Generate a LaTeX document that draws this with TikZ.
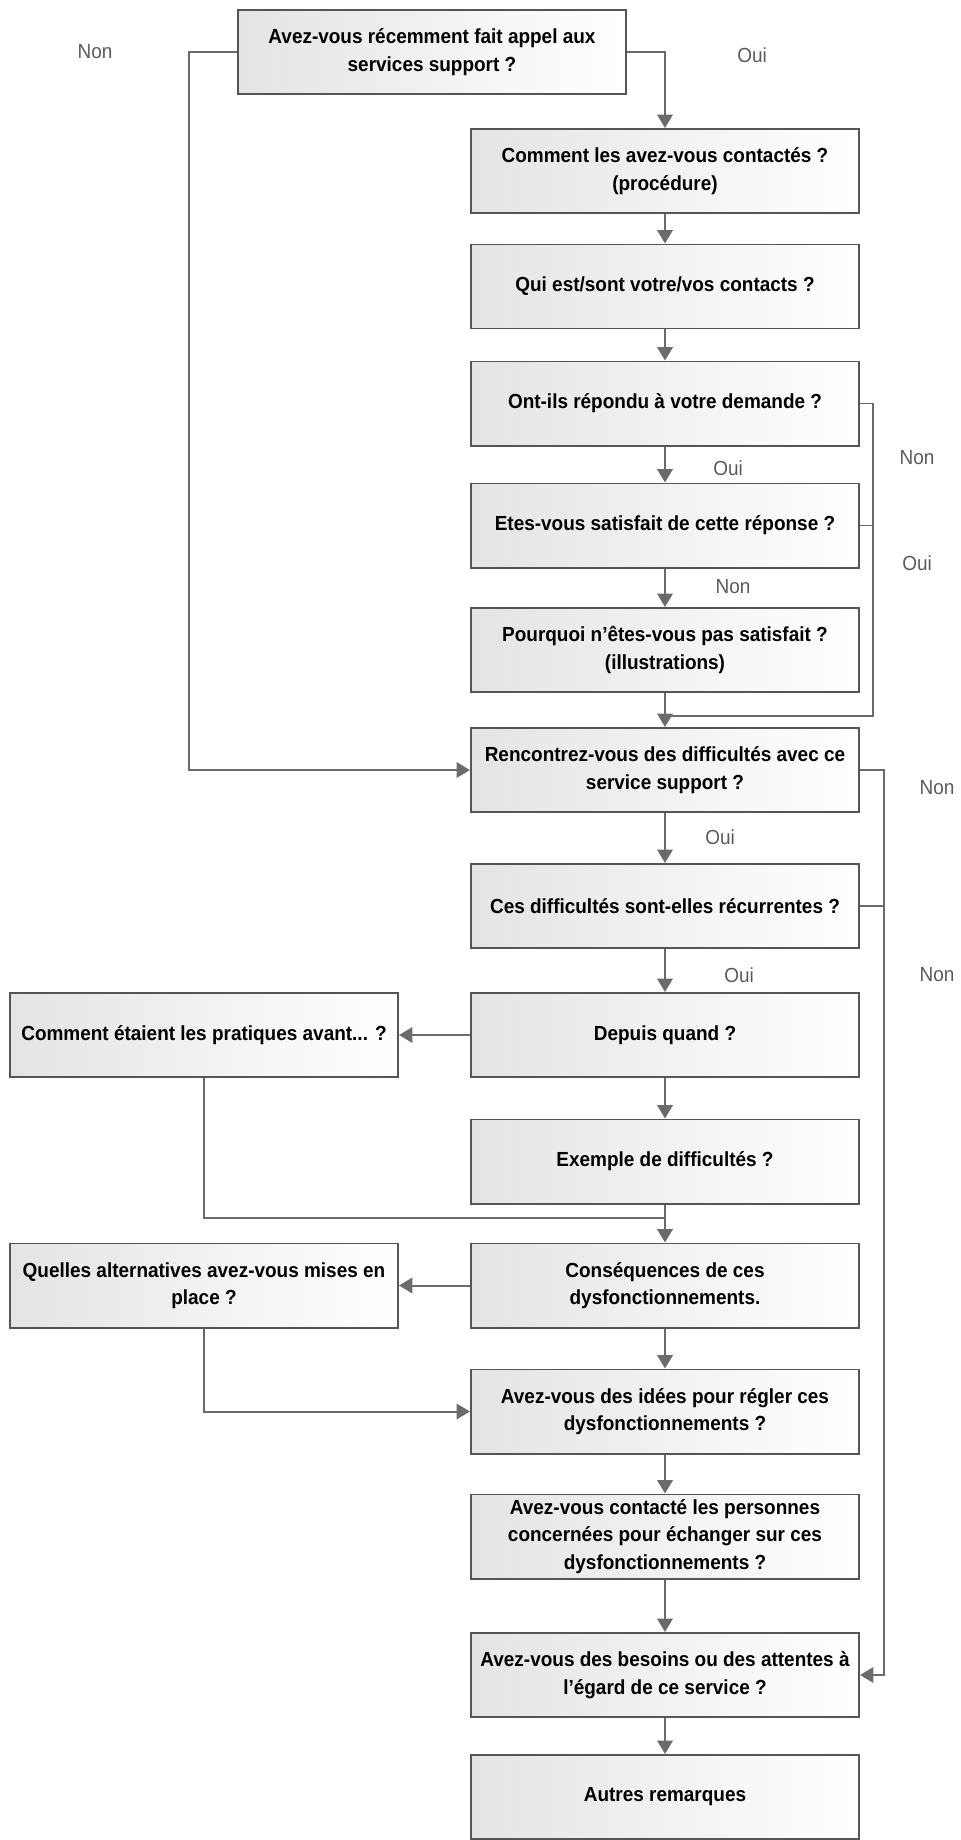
\documentclass[tikz,border=0pt]{standalone}
\usepackage{fontspec}
\setmainfont{Liberation Sans}[FakeStretch=0.93]
\usetikzlibrary{arrows.meta,calc}
\definecolor{Frame}{HTML}{555555}
\definecolor{Wire}{HTML}{6B6B6B}
\definecolor{Label}{HTML}{5A5A5A}
\definecolor{Shade}{HTML}{E4E4E4}
\tikzset{
qbox/.style={draw=Frame, line width=1.4pt, left color=Shade, right color=white, align=center, minimum width=9.7cm, minimum height=2.1cm, inner sep=2pt, font=\fontsize{14.5}{19.5}\selectfont\bfseries},
flowline/.style={draw=Wire, line width=1.4pt},
flowarrow/.style={flowline, -{Triangle[length=9.5pt,width=11pt]}},
answer/.style={text=Label, inner sep=0pt, font=\fontsize{14.5}{19.5}\selectfont}
}
\begin{document}
\begin{tikzpicture}[x=0.025cm, y=-0.025cm]
  \useasboundingbox (0,0) rectangle (960,1840);
  \node[qbox] (q0) at (432,52) {Avez-vous récemment fait appel aux\\services support ?};
  \node[qbox] (q1) at (665,171) {Comment les avez-vous contactés ?\\(procédure)};
  \node[qbox] (q2) at (665,286.5) {Qui est/sont votre/vos contacts ?};
  \node[qbox] (q3) at (665,403.5) {Ont-ils répondu à votre demande ?};
  \node[qbox] (q4) at (665,525.5) {Etes-vous satisfait de cette réponse ?};
  \node[qbox] (q5) at (665,650) {Pourquoi n\symbol{39}êtes-vous pas satisfait ?\\(illustrations)};
  \node[qbox] (q6) at (665,770) {Rencontrez-vous des difficultés avec ce\\service support ?};
  \node[qbox] (q7) at (665,906) {Ces difficultés sont-elles récurrentes ?};
  \node[qbox] (q8) at (665,1035) {Depuis quand ?};
  \node[qbox] (q9) at (665,1161.5) {Exemple de difficultés ?};
  \node[qbox] (q10) at (665,1285.5) {Conséquences de ces\\dysfonctionnements.};
  \node[qbox] (q11) at (665,1411.5) {Avez-vous des idées pour régler ces\\dysfonctionnements ?};
  \node[qbox] (q12) at (665,1536.5) {Avez-vous contacté les personnes\\concernées pour échanger sur ces\\dysfonctionnements ?};
  \node[qbox] (q13) at (665,1675) {Avez-vous des besoins ou des attentes à\\l’égard de ce service ?};
  \node[qbox] (q14) at (665,1797) {Autres remarques};
  \node[qbox] (before) at (204,1035) {Comment étaient les pratiques avant... ?};
  \node[qbox] (alt) at (204,1285.5) {Quelles alternatives avez-vous mises en\\place ?};
  \node[answer] (no0) at (95,52) {Non};
  \node[answer] (yes0) at (752,55) {Oui};
  \node[answer] (yes3) at (728,468) {Oui};
  \node[answer] (no4) at (733,587) {Non};
  \node[answer] (no3) at (917,458) {Non};
  \node[answer] (yes4) at (917,563) {Oui};
  \node[answer] (no6) at (937,788) {Non};
  \node[answer] (yes6) at (720,837) {Oui};
  \node[answer] (yes7) at (739,975) {Oui};
  \node[answer] (no7) at (937,975) {Non};
  \coordinate (yesjoin) at (665,716);
  \coordinate (prejoin) at (665,1218);
  \draw[flowarrow] (q0.east) -| (q1.north);
  \draw[flowarrow] (q0.west) -- ++(-48,0) |- (q6.west);
  \draw[flowarrow] (q1) -- (q2);
  \draw[flowarrow] (q2) -- (q3);
  \draw[flowarrow] (q3) -- (q4);
  \draw[flowarrow] (q4) -- (q5);
  \draw[flowarrow] (q5) -- (q6);
  \draw[flowline] (q3.east) -- ++(13,0) |- (yesjoin);
  \draw[flowline] (q4.east) -- ++(13,0);
  \draw[flowarrow] (q6) -- (q7);
  \draw[flowarrow] (q7) -- (q8);
  \draw[flowarrow] (q8) -- (q9);
  \draw[flowarrow] (q9) -- (q10);
  \draw[flowarrow] (q10) -- (q11);
  \draw[flowarrow] (q11) -- (q12);
  \draw[flowarrow] (q12) -- (q13);
  \draw[flowarrow] (q13) -- (q14);
  \draw[flowarrow] (q6.east) -- ++(24,0) |- (q13.east);
  \draw[flowline] (q7.east) -- ++(24,0);
  \draw[flowarrow] (q8) -- (before);
  \draw[flowline] (before.south) |- (prejoin);
  \draw[flowarrow] (q10) -- (alt);
  \draw[flowarrow] (alt.south) |- (q11.west);
\end{tikzpicture}
\end{document}
